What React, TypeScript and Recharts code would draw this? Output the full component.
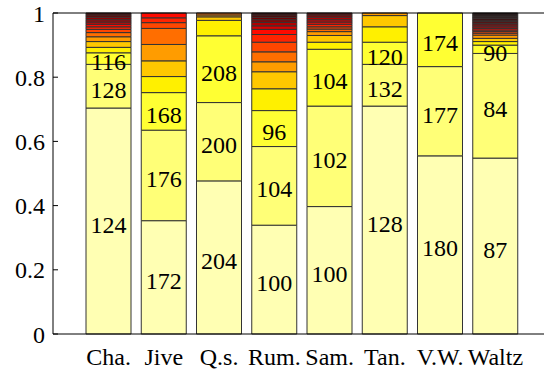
import { Bar, BarChart, LabelList, ReferenceLine, XAxis, YAxis } from 'recharts'

const categories = ['Cha.', 'Jive', 'Q.s.', 'Rum.', 'Sam.', 'Tan.', 'V.W.', 'Waltz']

// share of each stacked segment (per mille), bottom to top
const chaShares = [704, 136, 36, 17, 18, 15, 13, 10, 8, 8, 7, 7, 8, 7, 6]
const jiveShares = [353, 282, 117, 50, 49, 51, 50, 18, 15, 15]
const qsShares = [477, 244, 208, 48, 11, 6, 6]
const rumShares = [339, 245, 112, 68, 53, 31, 31, 30, 24, 16, 11, 11, 8, 8, 7, 6]
const samShares = [397, 313, 177, 22, 21, 12, 8, 7, 8, 7, 7, 8, 7, 6]
const tanShares = [710, 130, 69, 48, 35, 8]
const vwShares = [555, 278, 167]
const waltzShares = [548, 326, 26, 11, 10, 10, 6, 5, 5, 5, 5, 6, 5, 5, 5, 6, 4, 6, 6]

// numbers printed in the three lowest segments
const chaLabels = [124, 128, 116]
const jiveLabels = [172, 176, 168]
const qsLabels = [204, 200, 208]
const rumLabels = [100, 104, 96]
const samLabels = [100, 102, 104]
const tanLabels = [128, 132, 120]
const vwLabels = [180, 177, 174]
const waltzLabels = [87, 84, 90]

const yTicks = [0, 0.2, 0.4, 0.6, 0.8, 1]

const palette = [
  '#ffffb3', '#ffff77', '#ffff33', '#fff000', '#ffc800', '#ff9c00', '#ff6e00',
  '#ff4600', '#ff2400', '#ff0a00', '#d80000', '#b00000', '#900000', '#700000',
  '#580000', '#400000', '#300000', '#200000', '#180000',
]

const shares = [chaShares, jiveShares, qsShares, rumShares, samShares, tanShares, vwShares, waltzShares]
const labels = [chaLabels, jiveLabels, qsLabels, rumLabels, samLabels, tanLabels, vwLabels, waltzLabels]

const segCount = Math.max(...shares.map((s) => s.length))

const data = categories.map((cat, i) => {
  const row: Record<string, string | number> = { cat }
  shares[i].forEach((v, j) => {
    row[`s${j}`] = v
  })
  labels[i].forEach((v, j) => {
    row[`l${j}`] = v
  })
  return row
})

const font = "'Liberation Serif', Tinos, 'Times New Roman', Times, 'DejaVu Serif', 'Noto Serif', serif"

const fmt = (v: number) => (v === 0 || v === 1 ? String(v) : v.toFixed(1))

const YTick = (props: any) => {
  const { x, y, payload } = props
  return (
    <g>
      <line x1={x + 8} x2={x + 13} y1={y} y2={y} stroke="#000" />
      <text x={x} y={y} dy="0.355em" textAnchor="end" fill="#000" style={{ fontSize: 24, fontFamily: font }}>
        {fmt(payload.value)}
      </text>
    </g>
  )
}

const SegLabel = (props: any) => {
  const { x, y, width, height, value } = props
  if (value === undefined || value === null) return null
  return (
    <text
      x={x + width / 2}
      y={y + height / 2 + 11.5}
      textAnchor="middle"
      fill="#000"
      style={{ fontSize: 24, fontFamily: font }}
    >
      {value}
    </text>
  )
}

export default function App() {
  return (
    <div style={{ position: 'absolute', left: 0, top: 0, fontFamily: font }}>
      <BarChart
        width={544}
        height={373}
        data={data}
        stackOffset="expand"
        barSize={45}
        margin={{ top: 13, right: 0, bottom: 0, left: 0 }}
        style={{ fontFamily: font }}
      >
        <XAxis
          dataKey="cat"
          padding={{ left: 28, right: 21 }}
          axisLine={{ stroke: '#000' }}
          tickLine={false}
          tickSize={0}
          tickMargin={14}
          height={39}
          interval={0}
          tick={{ fill: '#000', fontSize: 24, style: { fontFamily: font } }}
        />
        <YAxis
          domain={[0, 1]}
          ticks={yTicks}
          width={53}
          axisLine={{ stroke: '#000' }}
          tickLine={false}
          tickSize={0}
          tickMargin={8}
          tick={<YTick />}
        />
        {Array.from({ length: segCount }, (_, j) => (
          <Bar
            key={j}
            dataKey={`s${j}`}
            stackId="a"
            fill={palette[j]}
            stroke="#333"
            strokeWidth={1}
            isAnimationActive={false}
          >
            {j < 3 && <LabelList dataKey={`l${j}`} content={<SegLabel />} />}
          </Bar>
        ))}
        <ReferenceLine y={1} stroke="#000" />
      </BarChart>
    </div>
  )
}
